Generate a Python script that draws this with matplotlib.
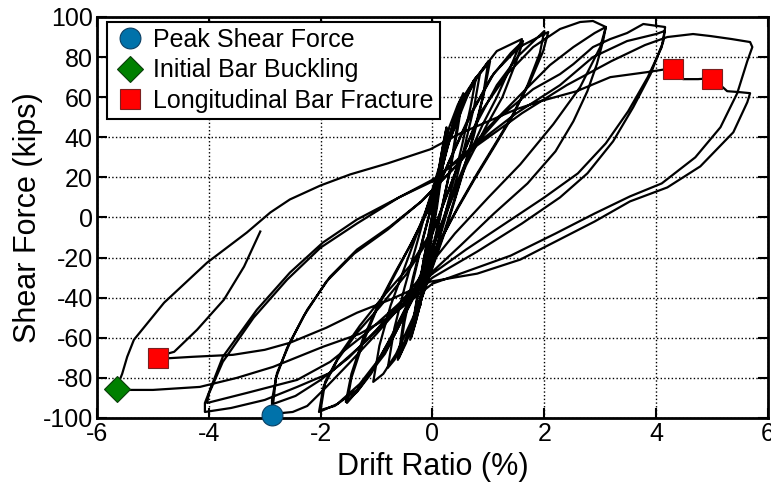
import matplotlib
matplotlib.use('Agg')
import matplotlib.pyplot as plt
import numpy as np

plt.rcParams['font.family'] = ['Liberation Sans', 'DejaVu Sans']
plt.rcParams['axes.unicode_minus'] = False

# hysteresis trace (drift %, kips)
loop_025 = [(0, 0), (0.1, 22), (0.2, 38), (0.25, 44),
            (0.18, 25), (0.08, 5), (-0.05, -15), (-0.15, -32), (-0.22, -44),
            (-0.15, -28), (-0.05, -8), (0.05, 12), (0.15, 30), (0.25, 45),
            (0.15, 22), (0.05, 2), (-0.08, -20), (-0.2, -40), (-0.25, -47),
            (-0.15, -25), (-0.02, -3), (0.12, 22), (0.3, 45), (0.45, 56), (0.52, 60)]
loop_05 = [(0.42, 42), (0.3, 22), (0.15, 2), (0, -18), (-0.15, -35), (-0.28, -50), (-0.38, -60),
           (-0.3, -45), (-0.18, -25), (-0.05, -5), (0.1, 15), (0.28, 38), (0.45, 55), (0.55, 62),
           (0.45, 44), (0.32, 24), (0.15, 3), (-0.02, -18), (-0.18, -38), (-0.3, -52), (-0.4, -61),
           (-0.3, -44), (-0.15, -20), (0, 0), (0.15, 22), (0.35, 45), (0.55, 60), (0.78, 70)]
loop_075 = [(0.68, 55), (0.52, 35), (0.32, 12), (0.12, -10), (-0.1, -30), (-0.3, -48), (-0.48, -62), (-0.6, -70),
            (-0.5, -52), (-0.35, -32), (-0.18, -12), (0, 8), (0.2, 30), (0.42, 50), (0.65, 64), (0.85, 72),
            (0.75, 56), (0.58, 36), (0.38, 14), (0.15, -8), (-0.08, -30), (-0.3, -50), (-0.48, -63), (-0.62, -71),
            (-0.52, -52), (-0.35, -30), (-0.15, -8), (0.05, 12), (0.3, 38), (0.55, 57), (0.8, 70), (1.03, 78)]
loop_10 = [(0.92, 62), (0.75, 42), (0.5, 18), (0.25, -5), (0, -25), (-0.25, -45), (-0.5, -62), (-0.68, -71), (-0.8, -75),
           (-0.68, -55), (-0.5, -35), (-0.3, -15), (-0.1, 5), (0.15, 28), (0.45, 52), (0.72, 67), (1.0, 78),
           (0.9, 60), (0.7, 38), (0.45, 14), (0.2, -8), (-0.05, -28), (-0.35, -50), (-0.65, -68), (-0.88, -78), (-1.06, -82),
           (-0.95, -64), (-0.75, -44), (-0.5, -25), (-0.25, -6), (0.0, 12), (0.3, 38), (0.73, 68), (1.15, 83), (1.6, 89)]
loop_15 = [(1.44, 78), (1.15, 60), (0.9, 46.5), (0.6, 28), (0.3, 8), (0.05, -12), (-0.3, -35), (-0.7, -58),
           (-1.05, -75), (-1.3, -85), (-1.53, -92.5),
           (-1.45, -80), (-1.25, -63), (-1.0, -46), (-0.7, -30), (-0.4, -14), (-0.1, 3), (0.25, 25), (0.65, 50),
           (1.05, 70), (1.4, 82), (1.62, 88),
           (1.5, 78), (1.25, 60), (0.95, 45), (0.6, 26), (0.3, 6), (0.0, -14), (-0.35, -38), (-0.75, -60),
           (-1.1, -78), (-1.35, -87), (-1.55, -92),
           (-1.45, -78), (-1.25, -61), (-0.98, -44), (-0.68, -28), (-0.36, -12), (-0.05, 5), (0.3, 28), (0.7, 52),
           (1.1, 72), (1.55, 85), (2.07, 92.5)]
loop_20 = [(1.98, 83), (1.75, 68), (1.44, 51.5), (1.15, 38), (0.8, 22), (0.45, 5), (0.1, -14), (-0.3, -38),
           (-0.8, -65), (-1.3, -83), (-1.7, -93), (-2.03, -97),
           (-1.95, -84.5), (-1.7, -71), (-1.35, -57.5), (-0.94, -44.5), (-0.46, -28), (0, -8), (0.35, 18),
           (0.75, 45), (1.15, 66), (1.55, 81), (2.0, 93),
           (1.92, 82), (1.7, 66), (1.4, 49), (1.1, 35), (0.75, 19), (0.4, 2), (0.05, -16), (-0.35, -40),
           (-0.85, -68), (-1.35, -86), (-1.75, -94), (-2.0, -96),
           (-1.92, -82), (-1.65, -68), (-1.3, -54), (-0.9, -40), (-0.4, -24), (0.05, -4), (0.4, 22), (0.85, 52),
           (1.35, 72), (1.8, 85), (2.28, 94), (2.64, 97.5), (2.87, 98), (3.1, 95)]
loop_30 = [(3.05, 88), (2.94, 76.5), (2.77, 63), (2.52, 48), (2.2, 33), (1.7, 17), (1.1, 2), (0.5, -14), (0, -27),
           (-0.5, -42), (-1.0, -58), (-1.5, -73), (-1.95, -86), (-2.24, -94), (-2.5, -97), (-2.87, -98),
           (-2.87, -91), (-2.78, -77.5), (-2.55, -62.5), (-2.24, -46), (-1.83, -29.5), (-1.35, -16), (-0.76, -4.5),
           (-0.2, 8), (0.4, 25), (1.0, 45), (1.6, 62), (2.1, 76), (2.52, 85), (2.9, 92), (3.1, 95),
           (3.0, 85), (2.64, 65), (2.16, 46.5), (1.57, 26.5), (1.0, 10), (0.4, -8), (0, -22), (-0.5, -40),
           (-1.0, -56), (-1.5, -70), (-2.0, -81), (-2.45, -89), (-2.85, -93),
           (-2.8, -80), (-2.6, -65), (-2.3, -49), (-1.9, -32), (-1.4, -18), (-0.8, -6), (-0.2, 8), (0.5, 28),
           (1.2, 50), (1.8, 64), (2.28, 71.5), (2.52, 76.5), (2.87, 85), (3.18, 89), (3.48, 92), (3.77, 96.5),
           (4.16, 95)]
loop_40 = [(4.13, 88), (3.9, 71.5), (3.59, 55), (3.23, 38), (2.77, 22), (2.28, 10), (1.6, -3), (0.8, -17),
           (0, -30), (-0.6, -45), (-1.2, -62), (-1.83, -77.5), (-2.42, -84.5), (-3.0, -91), (-3.6, -95),
           (-4.07, -97),
           (-4.07, -92.5), (-3.75, -69.5), (-3.14, -46), (-2.55, -27.5), (-1.96, -12.5), (-1.35, -1), (-0.6, 10),
           (0, 18), (0.7, 35), (1.5, 52), (2.28, 66), (2.87, 80), (3.48, 88), (4.0, 91.5), (4.15, 93),
           (4.1, 85), (3.85, 70), (3.5, 53), (3.1, 37), (2.6, 22), (2.0, 10), (1.3, -3), (0.6, -16), (0, -28),
           (-0.6, -43), (-1.2, -58), (-1.83, -72), (-2.42, -81), (-3.32, -87.5), (-4.03, -92.5),
           (-4.0, -88), (-3.75, -72), (-3.2, -50), (-2.6, -31), (-2.0, -15), (-1.35, -3), (-0.6, 10), (0.08, 20),
           (0.8, 36), (1.6, 52), (2.4, 66), (3.2, 78), (3.8, 86), (4.2, 90), (4.66, 91.5), (4.97, 90.5),
           (5.35, 89), (5.68, 87.5), (5.72, 85)]
loop_56 = [(5.63, 78), (5.45, 62), (5.15, 45), (4.7, 30), (4.1, 17), (3.53, 10.5), (2.9, 2), (2.2, -8),
           (1.4, -19), (0.6, -27), (0, -33), (-0.76, -49.5), (-1.3, -58), (-1.96, -64.5), (-2.85, -74.5),
           (-3.5, -80), (-4.16, -84.5), (-5.0, -86), (-5.46, -86), (-5.65, -85),
           (-5.55, -78), (-5.46, -69.5), (-5.34, -61), (-4.8, -42.5), (-4.03, -22.5), (-3.32, -7.5), (-2.9, 2.5),
           (-2.55, 9), (-2.0, 16), (-1.47, 21.5), (-0.8, 27), (-0.04, 34), (0.5, 42), (1.0, 48), (1.5, 54),
           (1.93, 58), (2.58, 63), (3.18, 70), (3.84, 72.5), (4.3, 74.5), (4.4, 71), (4.48, 69), (4.75, 69),
           (5.0, 69.5), (5.15, 66), (5.27, 63), (5.5, 62.5), (5.68, 62),
           (5.63, 57.5), (5.38, 42.5), (4.79, 25.5), (4.2, 15), (3.53, 8), (2.9, -2), (2.2, -12), (1.57, -21),
           (0.8, -28), (-0.04, -32), (-0.76, -41), (-1.35, -47.5), (-1.9, -55), (-2.55, -62.5), (-3.0, -66),
           (-3.57, -68.5), (-4.3, -69.5), (-4.9, -70.5),
           (-4.75, -68), (-4.62, -67), (-4.21, -56), (-3.73, -41), (-3.37, -24.5), (-3.08, -7)]

# damage states
peak_x, peak_y = [-2.87], [-98.5]
buckle_x, buckle_y = [-5.64], [-85.3]
fracture_x, fracture_y = [4.3, 5.0, -4.91], [74.3, 69.3, -70.3]

path = np.array(loop_025 + loop_05 + loop_075 + loop_10 + loop_15 + loop_20 + loop_30 + loop_40 + loop_56)

fig = plt.figure(figsize=(7.71, 4.91), dpi=100)
ax = fig.add_axes([0.1258, 0.1487, 0.8703, 0.8167])

ax.plot(path[:, 0], path[:, 1], color='k', lw=1.6, zorder=2)

ax.plot(peak_x, peak_y, 'o', ms=15, mfc='#0072AA', mec='#0B3F63', mew=0.8,
        ls='none', label='Peak Shear Force', zorder=4, clip_on=False)
ax.plot(buckle_x, buckle_y, 'D', ms=13, mfc='#008000', mec='#0A3D0A', mew=0.8,
        ls='none', label='Initial Bar Buckling', zorder=4, clip_on=False)
ax.plot(fracture_x, fracture_y, 's', ms=14, mfc='#FF0000', mec='#7A2020', mew=0.8,
        ls='none', label='Longitudinal Bar Fracture', zorder=4, clip_on=False)

ax.set_xlim(-6, 6)
ax.set_ylim(-100, 100)
ax.set_xticks(np.arange(-6, 7, 2))
ax.set_yticks(np.arange(-100, 101, 20))
ax.grid(True, color='k', ls=':', lw=1.0)
ax.tick_params(direction='in', top=True, right=True, length=7, width=1.5, labelsize=18, pad=3)
for s in ax.spines.values():
    s.set_linewidth(2)

ax.set_xlabel('Drift Ratio (%)', fontsize=22, labelpad=4)
ax.set_ylabel('Shear Force (kips)', fontsize=22, labelpad=0)

leg = ax.legend(loc='upper left', bbox_to_anchor=(0.015, 0.988), fontsize=18, frameon=True,
                fancybox=False, borderpad=0.25, labelspacing=0.25, handletextpad=0.3,
                handlelength=1.3, borderaxespad=0)
leg.get_frame().set_edgecolor('k')
leg.get_frame().set_linewidth(1.5)
leg.get_frame().set_alpha(1)

fig.savefig('out.png', dpi=100)
